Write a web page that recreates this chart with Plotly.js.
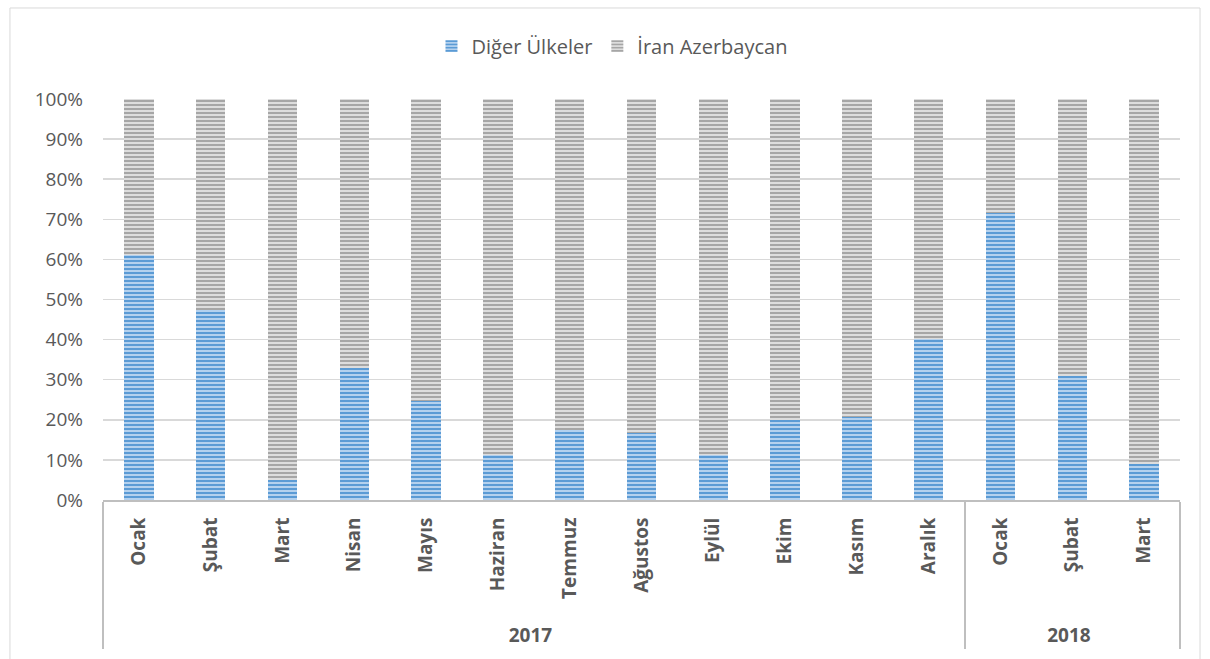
<!DOCTYPE html>
<html><head><meta charset="utf-8">
<script src="https://cdn.plot.ly/plotly-3.0.1.min.js"></script>
<style>body{margin:0;background:#fff}#c{width:1210px;height:659px}</style>
</head><body><div id="c"></div>
<script>
const years = ['2017','2017','2017','2017','2017','2017','2017','2017','2017','2017','2017','2017','2018','2018','2018'];
const months = ['Ocak','Şubat','Mart','Nisan','Mayıs','Haziran','Temmuz','Ağustos','Eylül','Ekim','Kasım','Aralık','Ocak','Şubat','Mart'];
const digerUlkeler = [61.2, 47.3, 5.0, 33.0, 24.6, 11.2, 17.5, 16.7, 11.2, 20.0, 20.7, 40.1, 71.6, 30.9, 9.0];
const iranAzerbaycan = [38.8, 52.7, 95.0, 67.0, 75.4, 88.8, 82.5, 83.3, 88.8, 80.0, 79.3, 59.9, 28.4, 69.1, 91.0];

// padding (non-breaking spaces) so the year row sits lower, as in the original
const monthLabels = months.map(m => '\u00a0\u00a0\u00a0' + m);

const traces = [
  {type:'bar', name:'Diğer Ülkeler', x:[years, monthLabels], y:digerUlkeler,
   marker:{color:'#9DC3E6', line:{width:0}, pattern:{shape:'-', fgcolor:'#5B9BD5', bgcolor:'#B4D1EE', size:4, solidity:0.5}}},
  {type:'bar', name:'İran Azerbaycan', x:[years, monthLabels], y:iranAzerbaycan,
   marker:{color:'#D0D0D0', line:{width:0}, pattern:{shape:'-', fgcolor:'#A6A6A6', bgcolor:'#DDDDDD', size:4, solidity:0.5}}}
];
const layout = {
  width:1210, height:659, barmode:'stack', bargap:0.59,
  margin:{l:103, r:30, t:99, b:159},
  paper_bgcolor:'#fff', plot_bgcolor:'#fff',
  font:{family:'"Open Sans", "Liberation Sans", sans-serif', color:'#595959', size:19},
  showlegend:true,
  legend:{orientation:'h', x:0.4726, xanchor:'center', y:1.132, yanchor:'middle', font:{size:20, color:'#595959'}, itemwidth:30, traceorder:'normal'},
  xaxis:{type:'multicategory', tickangle:-90, tickfont:{size:19, color:'#595959', family:'"Open Sans", sans-serif', weight:'bold'},
         showline:true, linecolor:'#BFBFBF', linewidth:2, showdividers:true, dividercolor:'#BFBFBF', dividerwidth:2,
         ticks:'', ticklabelstandoff:8, fixedrange:true},
  yaxis:{range:[0,100], dtick:10, ticksuffix:'%', showgrid:true, gridcolor:'#D9D9D9', gridwidth:1.5, zeroline:false,
         tickfont:{size:19, color:'#595959'}, showline:false, ticks:'', ticklabelstandoff:19, fixedrange:true},
  shapes:[{type:'rect', xref:'paper', yref:'paper', x0:-0.0864, x1:1.0186, y0:-0.5, y1:1.227,
           line:{color:'#D9D9D9', width:1}}]
};
Plotly.newPlot('c', traces, layout, {displayModeBar:false, staticPlot:true});
</script></body></html>
